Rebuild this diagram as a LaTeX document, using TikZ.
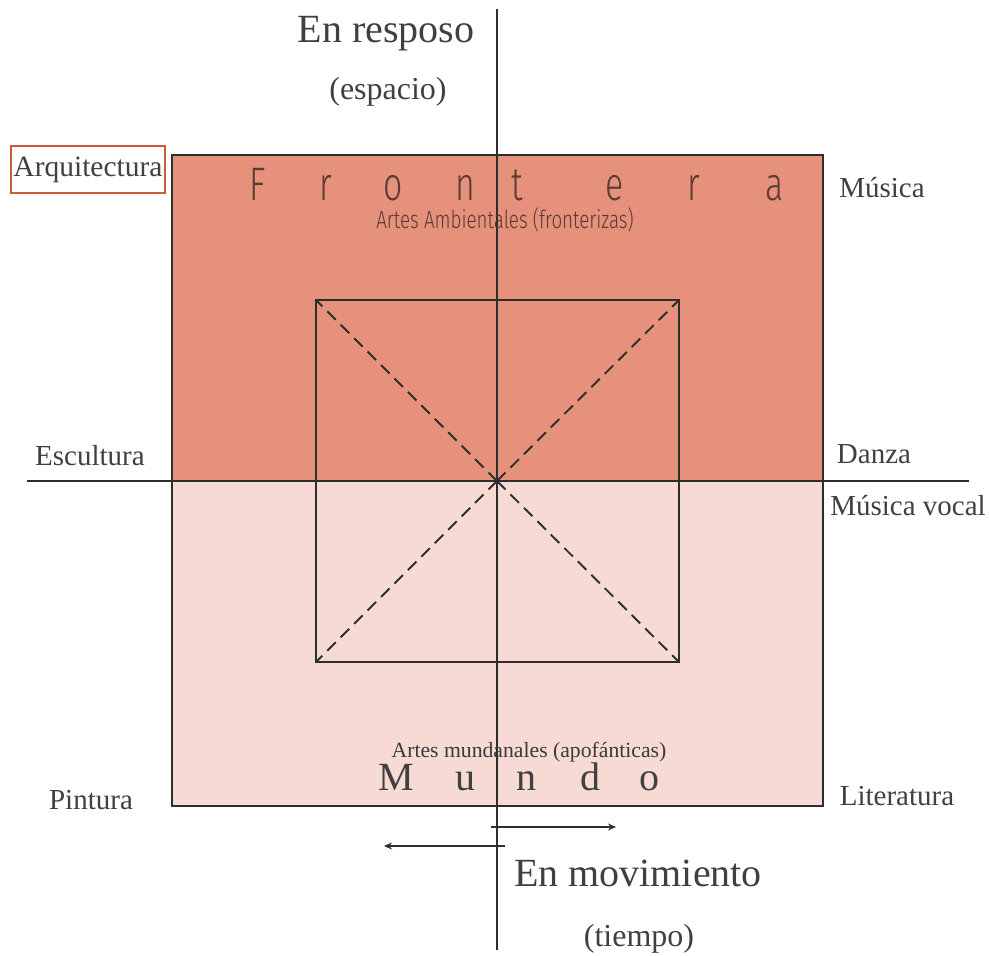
\documentclass[tikz,border=0pt]{standalone}
\usepackage{fontspec}
\setmainfont{Liberation Serif}
\IfFontExistsTF{Fira Sans Light}{\newfontfamily\thinsans{Fira Sans Light}}{\newfontfamily\thinsans{Fira Sans}}
\usetikzlibrary{arrows.meta}
\definecolor{upperfill}{HTML}{E5917B}
\definecolor{lowerfill}{HTML}{F8DAD4}
\definecolor{linegray}{HTML}{2E2E2E}
\definecolor{labgray}{HTML}{404040}
\definecolor{fronttext}{HTML}{5A3A32}
\definecolor{boxorange}{HTML}{C95C3F}
\newcommand{\narrowletter}[1]{\scalebox{0.72}[1]{#1}}
\begin{document}
\begin{tikzpicture}[x=1pt,y=-1pt,
  lab/.style={inner sep=0pt, anchor=base, text=labgray, font=\fontsize{29}{30}\selectfont},
  title/.style={inner sep=0pt, anchor=base, text=labgray, font=\fontsize{40}{42}\selectfont},
  subtitle/.style={inner sep=0pt, anchor=base, text=labgray, font=\fontsize{32}{34}\selectfont},
  frontletter/.style={inner sep=0pt, anchor=base, text=fronttext, font=\thinsans\fontsize{47}{48}\selectfont},
  mundoletter/.style={inner sep=0pt, anchor=base, text=labgray, font=\fontsize{40}{42}\selectfont},
  axisline/.style={draw=linegray, line width=2pt},
  frameline/.style={draw=linegray, line width=1.9pt},
  diagline/.style={draw=linegray, line width=1.9pt, dash pattern=on 12pt off 7pt},
  movarrow/.style={draw=linegray, line width=1.6pt, -{Stealth[length=8pt,width=7pt]}}
]
\useasboundingbox (0,0) rectangle (989,956);
% fills
\fill[upperfill] (172,155) rectangle (823,481);
\fill[lowerfill] (172,481) rectangle (823,806);
% corner coordinates
\coordinate (oTL) at (172,155);
\coordinate (oBR) at (823,806);
\coordinate (iTL) at (316,300);
\coordinate (iTR) at (679,300);
\coordinate (iBL) at (316,662);
\coordinate (iBR) at (679,662);
\coordinate (ctr) at (497,481);
\draw[frameline] (oTL) rectangle (oBR);
\draw[frameline] (iTL) rectangle (iBR);
\draw[diagline] (ctr) -- (iTL);
\draw[diagline] (ctr) -- (iBR);
\draw[diagline] (ctr) -- (iTR);
\draw[diagline] (ctr) -- (iBL);
% axes
\coordinate (vtop) at (497,9);
\coordinate (vbot) at (497,950);
\coordinate (hleft) at (27,481);
\coordinate (hright) at (969,481);
\draw[axisline] (vtop) -- (vbot);
\draw[axisline] (hleft) -- (hright);
% arrows
\coordinate (ra0) at (491,827);
\coordinate (ra1) at (616,827);
\coordinate (la0) at (505,846);
\coordinate (la1) at (384,846);
\draw[movarrow] (ra0) -- (ra1);
\draw[movarrow] (la0) -- (la1);
% titles
\node[title] (tRep) at (386,42) {En resposo};
\node[subtitle] (tEsp) at (388,99) {(espacio)};
\node[title] (tMov) at (638,886) {En movimiento};
\node[subtitle] (tTie) at (639,946) {(tiempo)};
% labels
\node[draw=boxorange, line width=1.8pt, minimum width=154pt, minimum height=47pt, inner sep=0pt, text=labgray, font=\fontsize{29.5}{30}\selectfont] (lArq) at (88,169.5) {Arquitectura};
\node[lab] (lMus) at (882,197) {Música};
\node[lab] (lEsc) at (90,465) {Escultura};
\node[lab] (lDan) at (874,463) {Danza};
\node[lab] (lMv) at (908,515) {Música vocal};
\node[lab] (lPin) at (91,809) {Pintura};
\node[lab] (lLit) at (897,805) {Literatura};
% Frontera
\node[frontletter] (f1) at (258,200) {\narrowletter{F}};
\node[frontletter] (f2) at (326,200) {\narrowletter{r}};
\node[frontletter] (f3) at (393,200) {\narrowletter{o}};
\node[frontletter] (f4) at (465,200) {\narrowletter{n}};
\node[frontletter] (f5) at (517,200) {\narrowletter{t}};
\node[frontletter] (f6) at (615,200) {\narrowletter{e}};
\node[frontletter] (f7) at (694,200) {\narrowletter{r}};
\node[frontletter] (f8) at (775,200) {\narrowletter{a}};
\node[inner sep=0pt, anchor=base, text=fronttext, font=\thinsans\fontsize{25}{26}\selectfont] (amb) at (505,228) {\scalebox{0.75}[1]{Artes Ambientales (fronterizas)}};
% Mundo
\node[inner sep=0pt, anchor=base, text=labgray!90!black, font=\fontsize{21.7}{23}\selectfont] (mund) at (529,757) {Artes mundanales (apofánticas)};
\node[mundoletter] (m1) at (396,790) {M};
\node[mundoletter] (m2) at (465,790) {u};
\node[mundoletter] (m3) at (526,790) {n};
\node[mundoletter] (m4) at (590,790) {d};
\node[mundoletter] (m5) at (649,790) {o};
\end{tikzpicture}
\end{document}
